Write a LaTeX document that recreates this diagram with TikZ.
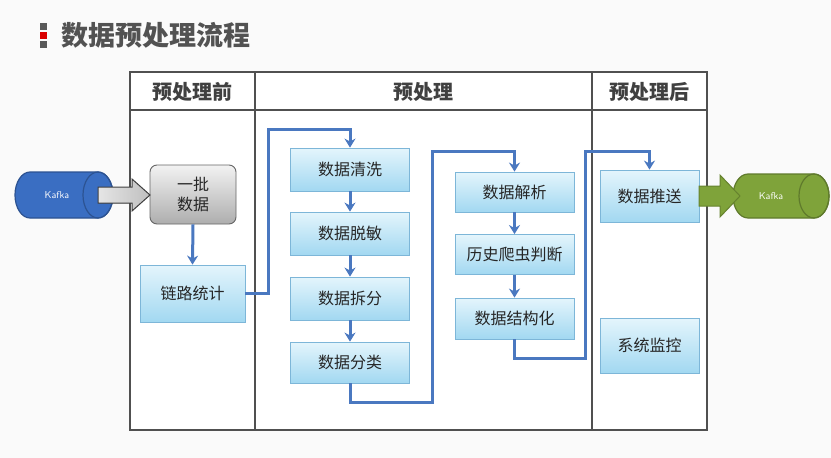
\documentclass[tikz,border=0pt]{standalone}
\usepackage{fontspec}
\newfontfamily\cjk{Noto Sans CJK SC}
\usetikzlibrary{arrows.meta}

\definecolor{linkblue}{HTML}{4A78C0}
\definecolor{boxtop}{HTML}{E4F5FC}
\definecolor{boxbot}{HTML}{A2D8F1}
\definecolor{boxline}{HTML}{7DB6D8}
\definecolor{kafkablue}{HTML}{3A6EC2}
\definecolor{kafkagreen}{HTML}{7FA33A}
\definecolor{framegray}{HTML}{505050}

\begin{document}
\begin{tikzpicture}[x=1pt,y=-1pt,
  stepbox/.style={draw=boxline,line width=.8pt,top color=boxtop,bottom color=boxbot,
    minimum width=119pt,minimum height=42pt,inner sep=0pt,
    font=\cjk\fontsize{16}{19}\selectfont,text=black!85},
  batchbox/.style={draw=black!60,line width=.9pt,rounded corners=7pt,top color=black!5,
    bottom color=black!32,minimum width=86pt,minimum height=59pt,align=center,
    font=\cjk\fontsize{16}{20}\selectfont,text=black!85},
  kafkatext/.style={text=white,font=\sffamily\fontsize{10}{11}\selectfont},
  head/.style={font=\cjk\bfseries\fontsize{20}{22}\selectfont,text=black!75},
  link/.style={draw=linkblue,line width=3pt,-{Stealth[length=9pt,width=11pt]}}]
  % Page and title.
  \fill[black!2] (0,0) rectangle (831,458);
  \fill[black!65] (40,23) rectangle (47,30);
  \fill[red!85!black] (40,32) rectangle (47,39);
  \fill[black!65] (40,41) rectangle (47,48);
  \node[anchor=west,font=\cjk\bfseries\fontsize{27}{30}\selectfont,text=black!68] (title) at (58,35) {数据预处理流程};
  % Frame with the three columns.
  \fill[white] (130,72) rectangle (707,430);
  \draw[framegray,line width=1.6pt] (130,72) rectangle (707,430);
  \draw[framegray,line width=1.2pt] (130,110) -- (707,110);
  \foreach \x in {255,592} { \draw[framegray,line width=1.2pt] (\x,72) -- (\x,430); }
  \node[head] (hpre) at (192.5,92) {预处理前};
  \node[head] (hmid) at (423.5,92) {预处理};
  \node[head] (hpost) at (649.5,92) {预处理后};
  % Kafka source: body, then the visible end.
  \filldraw[fill=kafkablue,draw=kafkablue!75!black,line width=1.2pt]
    (30,172) -- (98,172) arc (-90:90:15 and 23) -- (30,218) arc (90:270:15 and 23) -- cycle;
  \draw[kafkablue!75!black,line width=1.2pt] (98,195) ellipse (15 and 23);
  \node[kafkatext] (kin) at (57,195) {Kafka};
  % Before.
  \node[batchbox] (batch) at (193,194.5) {一批\\数据};
  \node[stepbox,minimum width=105pt,minimum height=57pt] (trace) at (192.5,293.5) {链路统计};
  \filldraw[draw=black!75,line width=1pt,left color=black!10,right color=black!25]
    (98,187) -- (132,187) -- (132,179) -- (150,195) -- (132,211) -- (132,203) -- (98,203) -- cycle;
  \draw[link] (batch.south) -- (trace.north);
  % Pre-processing, first column.
  \node[stepbox,minimum height=43pt] (clean) at (350,169.5) {数据清洗};
  \node[stepbox,minimum height=43pt] (mask) at (350,233.5) {数据脱敏};
  \node[stepbox,minimum height=43pt] (split) at (350,298.5) {数据拆分};
  \node[stepbox,minimum height=41pt] (sort) at (350,362.5) {数据分类};
  % Pre-processing, second column.
  \node[stepbox,minimum height=40pt] (parse) at (514.5,192) {数据解析};
  \node[stepbox,minimum height=40pt] (crawler) at (514.5,254.5) {历史爬虫判断};
  \node[stepbox,minimum height=41pt] (struct) at (514.5,318.5) {数据结构化};
  % After.
  \node[stepbox,minimum width=99pt,minimum height=52pt] (push) at (649.5,196) {数据推送};
  \node[stepbox,minimum width=99pt,minimum height=55pt] (monitor) at (649.5,345.5) {系统监控};
  % Kafka sink.
  \filldraw[fill=kafkagreen,draw=kafkagreen!75!black,line width=1.2pt]
    (748,174) -- (814,174) arc (-90:90:15 and 22) -- (748,218) arc (90:270:15 and 22) -- cycle;
  \draw[kafkagreen!75!black,line width=1.2pt] (814,196) ellipse (15 and 22);
  \node[kafkatext] (kout) at (771,196) {Kafka};
  \filldraw[fill=kafkagreen,draw=kafkagreen!80!black,line width=1pt]
    (699,186) -- (720,186) -- (720,175) -- (740,196) -- (720,217) -- (720,206) -- (699,206) -- cycle;
  % Flow between the steps.
  \coordinate (b1) at (268,129);
  \coordinate (b2) at (432,402);
  \coordinate (b3) at (432,151);
  \coordinate (b4) at (585,358);
  \coordinate (b5) at (585,151);
  \draw[link] (trace.east) -| (b1) -| (clean.north);
  \draw[link] (clean) -- (mask);
  \draw[link] (mask) -- (split);
  \draw[link] (split) -- (sort);
  \draw[link] (sort.south) |- (b2) -- (b3) -| (parse.north);
  \draw[link] (parse) -- (crawler);
  \draw[link] (crawler) -- (struct);
  \draw[link] (struct.south) |- (b4) -- (b5) -| (push.north);
\end{tikzpicture}
\end{document}
